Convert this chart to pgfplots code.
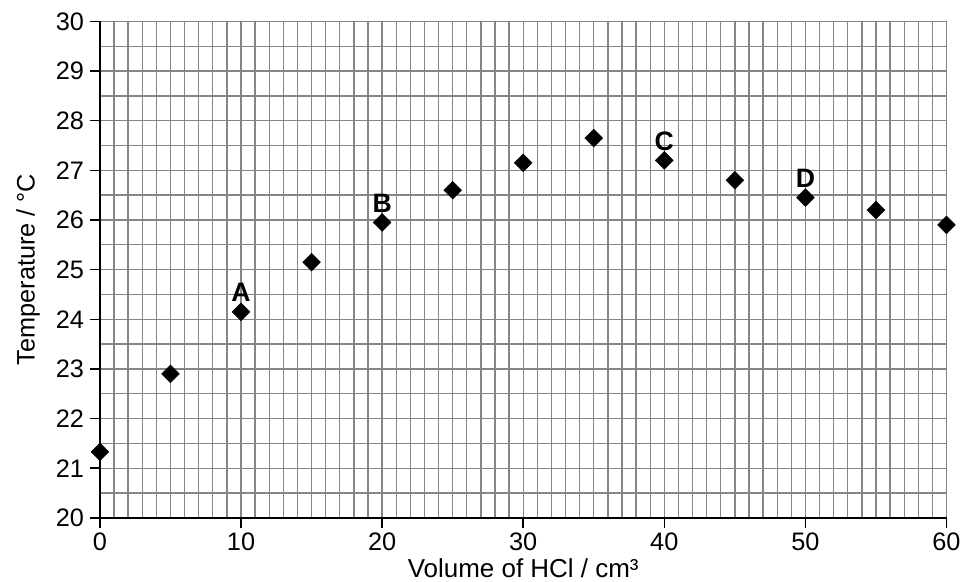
\documentclass[border={9pt 0pt 0pt 6pt}]{standalone}
\usepackage{pgfplots}
\pgfplotsset{compat=1.18}
\usepackage{fontspec}
\setmainfont{Liberation Sans}

\begin{document}
\begin{tikzpicture}
\begin{axis}[
    scale only axis,
    width=636pt, height=373pt,
    xmin=0, xmax=60, ymin=20, ymax=30,
    xtick={0,10,...,60},
    ytick={20,21,...,30},
    minor xtick={0,1,...,60},
    minor ytick={20,20.5,...,30},
    grid=both,
    minor grid style={black!48, line width=1pt},
    major grid style={black!48, line width=1pt},
    axis x line*=bottom, axis y line*=left,
    axis line style={black, line width=1.2pt, -},
    tick style={black, line width=1.1pt},
    major tick length=7.5pt,
    minor tick length=0pt,
    xtick align=outside, ytick align=outside,
    tick label style={font=\fontsize{19}{21}\selectfont},
    yticklabel style={xshift=-1pt},
    /pgf/number format/assume math mode=true,
    xlabel={Volume of HCl / cm³},
    ylabel={Temperature / °C},
    xlabel style={font=\fontsize{19.5}{21}\selectfont, yshift=1pt},
    ylabel style={font=\fontsize{19}{20}\selectfont, yshift=5pt},
    clip=false,
]
\addplot[only marks, mark=square*, mark size=4.7pt,
    mark options={rotate=45, fill=black, draw=black},
    point meta=explicit symbolic,
    nodes near coords,
    nodes near coords style={font=\fontsize{20}{22}\selectfont\bfseries, yshift=4pt}]
coordinates {
(0,21.33) []
(5,22.9) []
(10,24.15) [A]
(15,25.15) []
(20,25.95) [B]
(25,26.6) []
(30,27.15) []
(35,27.65) []
(40,27.2) [C]
(45,26.8) []
(50,26.45) [D]
(55,26.2) []
(60,25.9) []
};
\end{axis}
\end{tikzpicture}
\end{document}
